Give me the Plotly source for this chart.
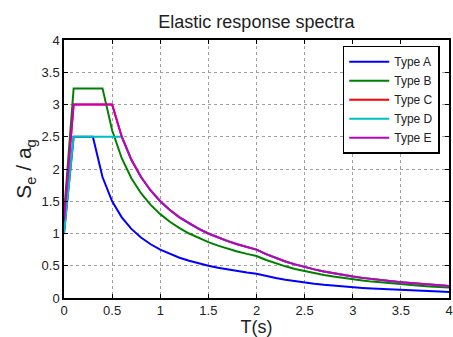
import plotly.graph_objects as go

period = [0.0, 0.1, 0.2, 0.3, 0.4, 0.5, 0.6, 0.7, 0.8, 0.9, 1.0,
          1.1, 1.2, 1.3, 1.4, 1.5, 1.6, 1.7, 1.8, 1.9, 2.0,
          2.1, 2.2, 2.3, 2.4, 2.5, 2.6, 2.7, 2.8, 2.9, 3.0,
          3.1, 3.2, 3.3, 3.4, 3.5, 3.6, 3.7, 3.8, 3.9, 4.0]

type_a = [1.0, 2.5, 2.5, 2.5, 1.875, 1.5, 1.25, 1.071, 0.9375, 0.833, 0.75,
          0.682, 0.625, 0.577, 0.536, 0.5, 0.469, 0.441, 0.417, 0.395, 0.375,
          0.340, 0.310, 0.284, 0.260, 0.24, 0.222, 0.206, 0.191, 0.178, 0.167,
          0.156, 0.146, 0.138, 0.130, 0.122, 0.116, 0.110, 0.104, 0.099, 0.094]

type_b = [1.3, 3.25, 3.25, 3.25, 3.25, 2.6, 2.167, 1.857, 1.625, 1.444, 1.3,
          1.182, 1.083, 1.0, 0.929, 0.867, 0.8125, 0.765, 0.722, 0.684, 0.65,
          0.590, 0.537, 0.491, 0.451, 0.416, 0.385, 0.357, 0.332, 0.309, 0.289,
          0.271, 0.254, 0.239, 0.225, 0.212, 0.201, 0.190, 0.180, 0.171, 0.1625]

type_c = [1.2, 3.0, 3.0, 3.0, 3.0, 3.0, 2.5, 2.143, 1.875, 1.667, 1.5,
          1.364, 1.25, 1.154, 1.071, 1.0, 0.9375, 0.882, 0.833, 0.789, 0.75,
          0.680, 0.620, 0.567, 0.521, 0.48, 0.444, 0.412, 0.383, 0.357, 0.333,
          0.312, 0.293, 0.275, 0.260, 0.245, 0.231, 0.219, 0.208, 0.197, 0.1875]

type_d = [1.0, 2.5, 2.5, 2.5, 2.5, 2.5, 2.5, 2.143, 1.875, 1.667, 1.5,
          1.364, 1.25, 1.154, 1.071, 1.0, 0.9375, 0.882, 0.833, 0.789, 0.75,
          0.680, 0.620, 0.567, 0.521, 0.48, 0.444, 0.412, 0.383, 0.357, 0.333,
          0.312, 0.293, 0.275, 0.260, 0.245, 0.231, 0.219, 0.208, 0.197, 0.1875]

type_e = [1.2, 3.0, 3.0, 3.0, 3.0, 3.0, 2.5, 2.143, 1.875, 1.667, 1.5,
          1.364, 1.25, 1.154, 1.071, 1.0, 0.9375, 0.882, 0.833, 0.789, 0.75,
          0.680, 0.620, 0.567, 0.521, 0.48, 0.444, 0.412, 0.383, 0.357, 0.333,
          0.312, 0.293, 0.275, 0.260, 0.245, 0.231, 0.219, 0.208, 0.197, 0.1875]

names = ["Type A", "Type B", "Type C", "Type D", "Type E"]
series = [type_a, type_b, type_c, type_d, type_e]
colors = ["#0000FF", "#008000", "#FF0000", "#00BFBF", "#BF00BF"]

x_ticks = [0, 0.5, 1, 1.5, 2, 2.5, 3, 3.5, 4]
y_ticks = [0, 0.5, 1, 1.5, 2, 2.5, 3, 3.5, 4]

font = "Liberation Sans, Arial, sans-serif"

fig = go.Figure()
for name, vals, col in zip(names, series, colors):
    fig.add_trace(go.Scatter(x=period, y=vals, mode="lines", name=name,
                             line=dict(color=col, width=2)))

axis_common = dict(
    showline=True, linecolor="black", linewidth=1.5, mirror="ticks",
    ticks="inside", ticklen=4, tickcolor="black",
    showgrid=True, gridcolor="#a0a0a0", griddash="dot", gridwidth=1,
    zeroline=False, automargin=False,
    tickfont=dict(family=font, size=13, color="#222"),
)

fig.update_layout(
    width=453, height=337,
    margin=dict(l=64, r=4, t=40, b=39),
    paper_bgcolor="white", plot_bgcolor="white",
    font=dict(family=font, color="#222"),
    title=dict(text="Elastic response spectra", x=0.566, xanchor="center",
               y=1 - 22 / 337, yanchor="middle", yref="container",
               font=dict(family=font, size=18, color="#222")),
    xaxis=dict(range=[0, 4], tickvals=x_ticks, ticktext=[f"{t:g}" for t in x_ticks],
               title=dict(text="T(s)", font=dict(family=font, size=18), standoff=10),
               **axis_common),
    yaxis=dict(range=[0, 4], tickvals=y_ticks, ticktext=[f"{t:g}" for t in y_ticks],
               title=dict(text="S<sub>e</sub> / a<sub>g</sub>", font=dict(family=font, size=21), standoff=4),
               **axis_common),
    legend=dict(x=0.724, y=0.978, xanchor="left", yanchor="top",
                bgcolor="white", bordercolor="black", borderwidth=1.5,
                font=dict(family=font, size=12, color="#222"),
                itemwidth=40, tracegroupgap=0),
    showlegend=True,
)

fig.write_html("out.html", config={"displayModeBar": False},
               post_script="document.body.style.margin='0';document.body.style.overflow='hidden';")
